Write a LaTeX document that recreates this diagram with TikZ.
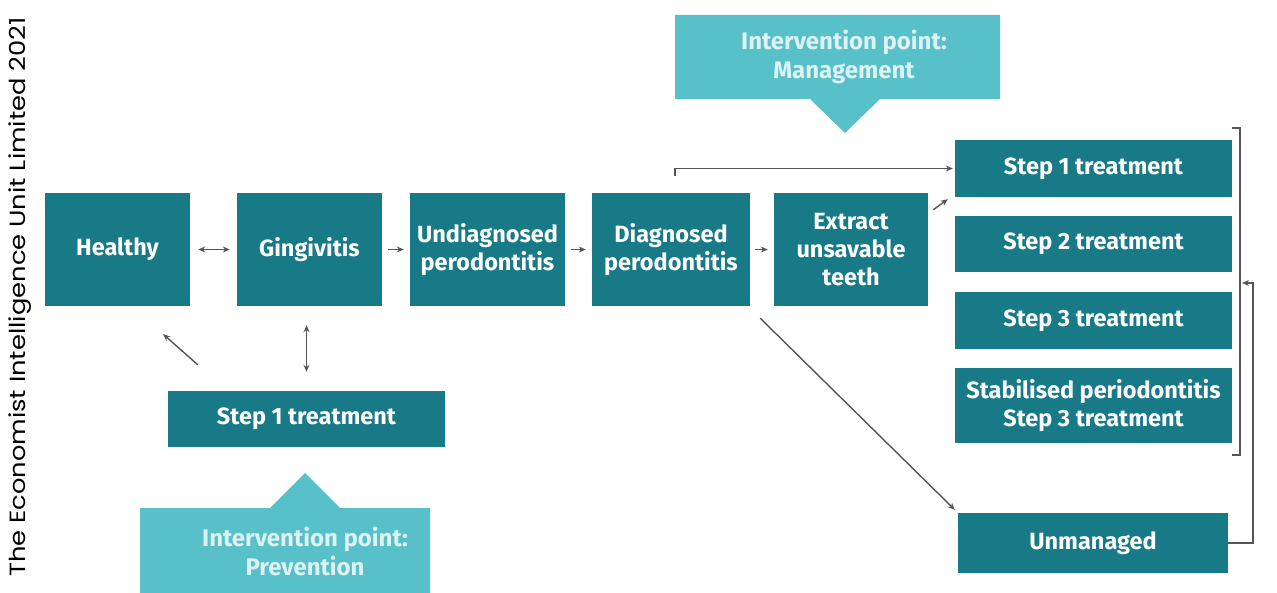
\documentclass[tikz,border=0pt]{standalone}
\usepackage{fontspec}
\setmainfont{Fira Sans}
\newfontfamily\creditfont{Poppins}
\usetikzlibrary{arrows.meta,calc}
\definecolor{dteal}{HTML}{177A86}
\definecolor{lteal}{HTML}{58C0C8}
\definecolor{agray}{HTML}{555555}
\definecolor{ctext}{HTML}{DDF2F3}
\begin{document}
\begin{tikzpicture}[x=1pt,y=-1pt,
  box/.style={fill=dteal,text=white,font=\fontsize{23.5}{28}\selectfont\bfseries,align=center,inner sep=0pt,draw=none},
  conn/.style={draw=agray,line width=1.4pt,-{Stealth[length=7pt,width=6pt]}},
  biconn/.style={draw=agray,line width=1.4pt,{Stealth[length=7pt,width=6pt]}-{Stealth[length=7pt,width=6pt]}},
  callout/.style={fill=lteal,draw=none},
  calltext/.style={text=ctext,font=\fontsize{24}{29}\selectfont\bfseries,align=center,inner sep=0pt}]
\useasboundingbox (0,0) rectangle (1277,593);
\fill[white] (0,0) rectangle (1277,593);

% credit
\node[rotate=90,font=\creditfont\fontsize{22}{24}\selectfont,text=black,inner sep=0pt] (credit) at (20,297) {\scalebox{1.17}[1]{The Economist Intelligence Unit Limited 2021}};

% callouts
\path[callout] (140,508) -- (270,508) -- (305,473) -- (340,508) -- (430,508) -- (430,593) -- (140,593) -- cycle;
\node[calltext] (prevtext) at (305,551) {Intervention point:\\Prevention};
\path[callout] (675,15) -- (1000,15) -- (1000,99) -- (880,99) -- (845,133) -- (810,99) -- (675,99) -- cycle;
\node[calltext] (mgmttext) at (844,57) {Intervention point:\\Management};

% main row
\node[box,minimum width=145pt,minimum height=113pt] (healthy) at (117.5,249.5) {Healthy};
\node[box,minimum width=145pt,minimum height=113pt] (gingi) at (309.5,249.5) {Gingivitis};
\node[box,minimum width=155pt,minimum height=113pt] (undiag) at (487.5,249.5) {Undiagnosed\\perodontitis};
\node[box,minimum width=158pt,minimum height=113pt] (diag) at (671,249.5) {Diagnosed\\perodontitis};
\node[box,minimum width=154pt,minimum height=113pt] (extract) at (851,249.5) {Extract\\unsavable\\teeth};

% right column
\node[box,minimum width=277pt,minimum height=57pt] (s1r) at (1093.5,168.5) {Step 1 treatment};
\node[box,minimum width=277pt,minimum height=56pt] (s2r) at (1093.5,244) {Step 2 treatment};
\node[box,minimum width=277pt,minimum height=57pt] (s3r) at (1093.5,320.5) {Step 3 treatment};
\node[box,minimum width=277pt,minimum height=75pt] (stab) at (1093.5,405.5) {Stabilised periodontitis\\Step 3 treatment};
\node[box,minimum width=270pt,minimum height=60pt] (unman) at (1093,543) {Unmanaged};

% lower step 1
\node[box,minimum width=277pt,minimum height=56pt] (s1l) at (306.5,419) {Step 1 treatment};

% connectors in the row
\draw[biconn,shorten <=8pt,shorten >=7pt] (healthy.east) -- (gingi.west);
\draw[conn,shorten <=6pt,shorten >=6pt] (gingi.east) -- (undiag.west);
\draw[conn,shorten <=6pt,shorten >=6pt] (undiag.east) -- (diag.west);
\draw[conn,shorten <=5pt,shorten >=6pt] (diag.east) -- (extract.west);

% top route to step 1
\coordinate (tstart) at (675,176);
\draw[conn,shorten >=2pt] (tstart) |- (s1r.west);
\draw[conn] ([shift={(5,17)}]extract.north east) -- ([shift={(-7,2)}]s1r.south west);

% diagonal to unmanaged
\draw[conn] ([shift={(10,12)}]diag.south east) -- ([shift={(-3,-3)}]unman.north west);

% lower left
\draw[biconn,shorten <=19pt,shorten >=19pt] (s1l.north) -- (s1l.north |- gingi.south);
\draw[conn] ([shift={(30,-26)}]s1l.north west) -- ([shift={(-27,28)}]healthy.south east);

% bracket
\coordinate (brtop) at (1232,128);
\coordinate (brbot) at (1232,455);
\draw[agray,line width=1.4pt] (brtop) -- (1240,128) -- (1240,455) -- (brbot);

% return from unmanaged
\coordinate (retend) at (1242,283);
\draw[conn] (unman.east) -- (1253,543) -- (1253,283) -- (retend);
\end{tikzpicture}
\end{document}
